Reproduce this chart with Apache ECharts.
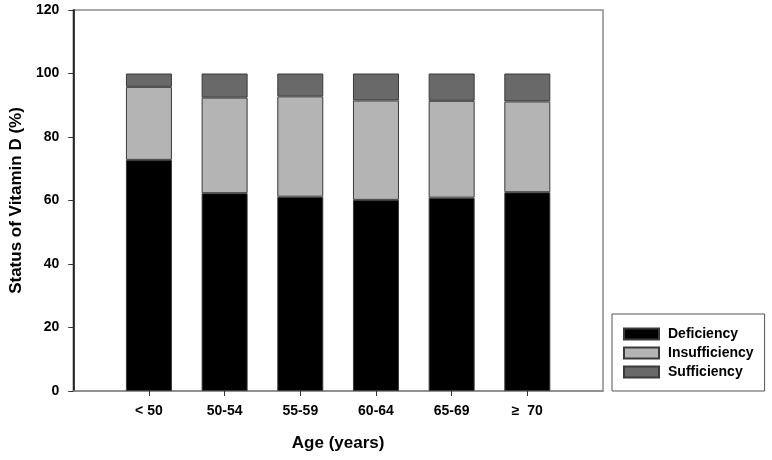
<!DOCTYPE html>
<html>
<head>
<meta charset="utf-8">
<script src="https://cdn.jsdelivr.net/npm/echarts@6/dist/echarts.min.js"></script>
<style>
html,body{margin:0;padding:0;background:#fff;}
#chart{width:772px;height:460px;}
</style>
</head>
<body>
<div id="chart"></div>
<script>
var categories = ['< 50', '50-54', '55-59', '60-64', '65-69', '\u2265  70'];
var deficiency = [72.8, 62.3, 61.2, 60.2, 60.9, 62.6];
var insufficiency = [23.0, 30.1, 31.6, 31.3, 30.5, 28.6];
var sufficiency = [4.2, 7.6, 7.2, 8.5, 8.6, 8.8];
var yTicks = [0, 20, 40, 60, 80, 100, 120];

var FONT = 'Liberation Sans, Arial, sans-serif';
// pad with an empty slot on each side so the frame reaches one step beyond the outer bars
var axisCats = [''].concat(categories).concat(['']);
function padded(arr) { return [null].concat(arr).concat([null]); }
var lastIdx = axisCats.length - 1;

function barSeries(name, data, color) {
  return {
    name: name, type: 'bar', stack: 'total', barWidth: 46,
    data: padded(data),
    itemStyle: { color: color, borderColor: '#3a3a3a', borderWidth: 1 },
    emphasis: { disabled: true }
  };
}

var chart = echarts.init(document.getElementById('chart'), null, { renderer: 'canvas' });
chart.setOption({
  animation: false,
  backgroundColor: '#fff',
  textStyle: { fontFamily: FONT, color: '#000' },
  grid: { left: 72, top: 10, right: 169, bottom: 69, show: true, borderColor: '#8a8a8a', borderWidth: 1.5, backgroundColor: 'transparent' },
  legend: {
    orient: 'vertical', left: 612, top: 314,
    padding: [13, 11, 12, 11],
    borderColor: '#555', borderWidth: 1,
    icon: 'rect',
    itemWidth: 35, itemHeight: 11, itemGap: 5,
    textStyle: { fontFamily: FONT, fontWeight: 'bold', fontSize: 14, color: '#000', padding: [0, 0, 0, 4] },
    data: ['Deficiency', 'Insufficiency', 'Sufficiency']
  },
  xAxis: {
    type: 'category', data: axisCats, boundaryGap: false,
    name: 'Age (years)', nameLocation: 'middle', nameGap: 44,
    nameTextStyle: { fontFamily: FONT, fontWeight: 'bold', fontSize: 17, color: '#000' },
    splitLine: { show: false },
    axisLine: { show: true, lineStyle: { color: '#8a8a8a', width: 1.5 } },
    axisTick: {
      show: true, inside: false, length: 5, alignWithLabel: true,
      interval: function (idx) { return idx > 0 && idx < lastIdx; },
      lineStyle: { color: '#333' }
    },
    axisLabel: {
      interval: 0, margin: 13,
      fontFamily: FONT, fontWeight: 'bold', fontSize: 14, color: '#000'
    }
  },
  yAxis: {
    type: 'value', min: 0, max: 120, interval: 20,
    name: 'Status of Vitamin D (%)', nameLocation: 'middle', nameGap: 41,
    nameTextStyle: { fontFamily: FONT, fontWeight: 'bold', fontSize: 17, color: '#000' },
    splitLine: { show: false },
    axisLine: { show: true, lineStyle: { color: '#000', width: 1.5 } },
    axisTick: { show: true, inside: false, length: 5, lineStyle: { color: '#333' } },
    axisLabel: {
      margin: 14, fontFamily: FONT, fontWeight: 'bold', fontSize: 14, color: '#000',
      formatter: function (v) { return yTicks.indexOf(v) >= 0 ? String(v) : ''; }
    }
  },
  series: [
    barSeries('Deficiency', deficiency, '#000000'),
    barSeries('Insufficiency', insufficiency, '#b4b4b4'),
    barSeries('Sufficiency', sufficiency, '#696969')
  ]
});
</script>
</body>
</html>
